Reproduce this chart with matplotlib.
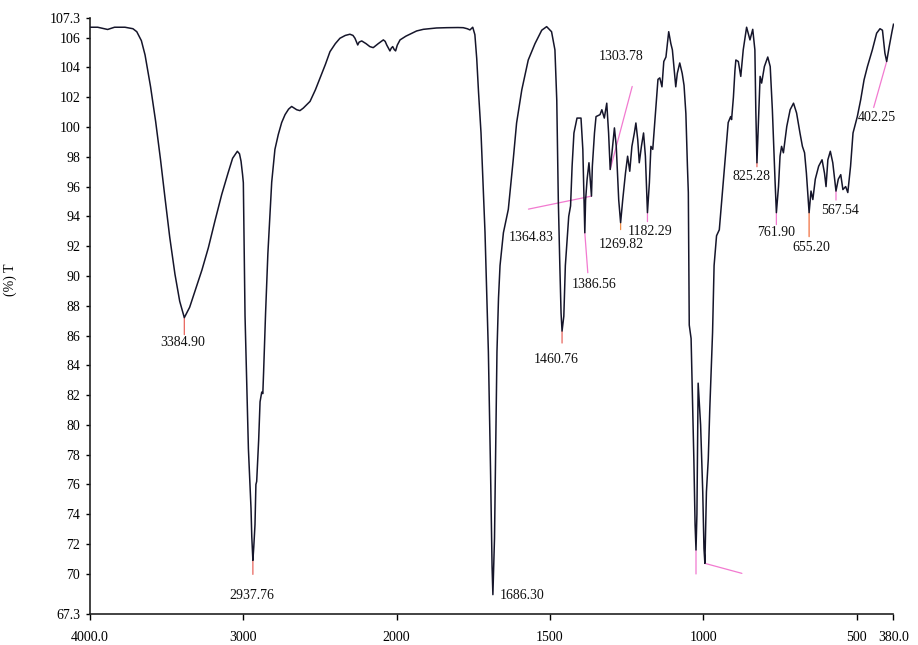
import numpy as np
import matplotlib
matplotlib.use("Agg")
import matplotlib.pyplot as plt

# ---------------- data ----------------
wavenumber = [
    4000, 3950, 3885, 3840, 3772, 3720, 3695, 3665, 3641, 3605, 3572, 3540, 3511, 3480, 3446, 3415,
    3384.9, 3350, 3315, 3270, 3228, 3185, 3141, 3100, 3070, 3039, 3025, 3015, 3005, 3000, 2989, 2967,
    2950, 2945, 2937.76, 2932, 2924, 2918, 2913, 2900, 2891, 2880, 2873, 2868, 2860, 2855, 2840, 2815,
    2794, 2772, 2750, 2728, 2705, 2685, 2665, 2652, 2631, 2609, 2565, 2530, 2500, 2465, 2435, 2400,
    2370, 2335, 2305, 2285, 2272, 2262, 2254, 2245, 2228, 2200, 2175, 2153, 2120, 2087, 2075, 2065,
    2044, 2035, 2026, 2016, 2007, 1998, 1989, 1970, 1957, 1935, 1913, 1870, 1837, 1800, 1783, 1770,
    1761, 1752, 1745, 1739, 1733, 1725, 1712, 1701, 1694, 1689, 1686.3, 1681, 1677, 1673, 1668, 1663,
    1652, 1636, 1620, 1609, 1592, 1571, 1549, 1527, 1511, 1495, 1484, 1478, 1473, 1468, 1464, 1460.76,
    1455, 1450, 1439, 1433, 1428, 1422, 1412, 1399, 1393, 1386.56, 1384, 1379, 1373, 1364.83, 1362,
    1355, 1350, 1337, 1331, 1323, 1315, 1309, 1303.78, 1298, 1290, 1284, 1276, 1269.82, 1263, 1254,
    1247, 1240, 1233, 1225, 1220, 1214, 1209, 1202, 1195, 1189, 1182.29, 1176, 1171, 1165, 1157, 1148,
    1142, 1135, 1129, 1122, 1113, 1106, 1101, 1096, 1090, 1085, 1077, 1069, 1063, 1057, 1052, 1049,
    1047, 1046, 1044, 1040, 1036, 1031, 1027, 1024, 1021, 1017, 1009, 1002, 998, 995, 990, 984, 979,
    970, 965, 957, 948, 940, 929, 919, 911, 908, 902, 897, 894, 886, 878, 870, 859, 848, 839, 832,
    829, 825.28, 815, 810, 801, 790, 782, 775, 766, 761.9, 755, 750, 745, 739, 728, 717, 706, 696,
    685, 677, 670, 664, 655.2, 649, 643, 635, 624, 613, 605, 600, 594, 586, 578, 567.54, 560, 552,
    545, 536, 529, 520, 512, 498, 487, 476, 465, 449, 435, 424, 416, 408, 402.25, 394, 385, 380,
]
transmittance = [
    106.7, 106.7, 106.55, 106.7, 106.7, 106.6, 106.4, 105.8, 104.84, 102.7, 100.38, 97.8, 95.25, 92.6, 90.12, 88.3,
    87.2, 87.9, 89.0, 90.4, 91.9, 93.7, 95.47, 96.9, 97.9, 98.37, 98.2, 97.7, 96.8, 96.26, 87.33, 78.4,
    74.4, 72.5, 70.9, 71.8, 73.3, 76.0, 76.2, 79.0, 81.55, 82.2, 82.1, 83.5, 86.0, 87.5, 91.5, 96.3,
    98.5, 99.5, 100.3, 100.83, 101.2, 101.38, 101.25, 101.16, 101.1, 101.27, 101.72, 102.5, 103.28, 104.2, 105.06, 105.6,
    105.96, 106.15, 106.23, 106.15, 105.96, 105.7, 105.51, 105.7, 105.78, 105.6, 105.4, 105.33, 105.6, 105.85, 105.75, 105.51,
    105.11, 105.3, 105.4, 105.2, 105.11, 105.5, 105.85, 106.1, 106.23, 106.45, 106.56, 106.65, 106.67, 106.68, 106.67, 106.6,
    106.52, 106.7, 106.2, 104.6, 102.3, 99.6, 92.93, 84.9, 77.0, 70.5, 68.6, 72.4, 78.5, 84.9, 88.5, 90.7,
    92.9, 94.47, 97.8, 100.27, 102.5, 104.5, 105.6, 106.5, 106.74, 106.4, 105.18, 101.8, 95.13, 90.68, 87.5, 86.3,
    87.3, 90.7, 94.0, 94.7, 97.37, 99.6, 100.6, 100.6, 98.49, 92.9, 95.1, 96.5, 97.6, 95.36, 97.37,
    99.6, 100.7, 100.83, 101.16, 100.6, 101.6, 99.6, 97.15, 98.27, 99.94, 98.7, 95.1, 93.58, 95.1, 96.9,
    98.04, 97.03, 98.7, 99.6, 100.27, 99.15, 97.6, 98.7, 99.6, 98.04, 94.25, 96.26, 98.7, 98.5, 100.7, 103.2,
    103.3, 102.7, 104.4, 104.7, 106.4, 105.6, 105.18, 104.06, 102.7, 103.6, 104.3, 103.6, 102.8, 100.9, 97.4, 95.6,
    90.0, 86.7, 86.4, 85.8, 82.2, 77.7, 73.3, 71.6, 74.0, 82.8, 80.0, 75.5, 71.7, 70.7, 75.5, 77.7, 81.1,
    86.2, 90.7, 92.7, 93.1, 95.1, 97.8, 100.3, 100.7, 100.5, 102.0, 103.8, 104.5, 104.4, 103.4, 105.18, 106.7, 105.85, 106.56, 105.18,
    101.16, 97.6, 103.4, 102.95, 104.06, 104.7, 104.06, 101.16, 96.26, 94.25, 96.0, 98.04, 98.7, 98.27, 100.04, 101.16, 101.6, 100.94,
    99.6, 98.7, 98.27, 96.9, 94.25, 95.7, 95.13, 96.5, 97.37, 97.8, 96.9, 96.0, 97.8, 98.37, 97.6, 95.7, 96.5, 96.8,
    95.8, 96.0, 95.6, 97.37, 99.6, 100.7, 101.83, 103.17, 104.06, 105.18, 106.3, 106.6, 106.5, 104.96, 104.4, 105.4, 106.4, 106.9,
]

peak_wavenumbers = [3384.90, 2937.76, 1686.30, 1460.76, 1386.56, 1364.83, 1303.78, 1269.82,
                    1182.29, 825.28, 761.90, 655.20, 567.54, 402.25, 1024, 995]
peak_labels = ["3384.90", "2937.76", "1686.30", "1460.76", "1386.56", "1364.83", "1303.78", "1269.82",
               "1182.29", "825.28", "761.90", "655.20", "567.54", "402.25", "", ""]

x_ticks = [4000, 3000, 2000, 1500, 1000, 500, 380]
x_tick_labels = ["4000.0", "3000", "2000", "1500", "1000", "500", "380.0"]
y_ticks = [67.3, 70, 72, 74, 76, 78, 80, 82, 84, 86, 88, 90, 92, 94, 96, 98, 100, 102, 104, 106, 107.3]
y_tick_labels = ["67.3"] + [str(v) for v in range(70, 107, 2)] + ["107.3"]

# ---------------- layout / style (pixel offsets for annotations) ----------------
RED = "#e8655d"
PINK = "#f27ad0"
# (line end dx, dy), (text dx, dy), colour   -- offsets in pixels from the curve point
annot_style = [
    ((0, -17), (-2, -25), RED),
    ((0, -14), (-1, -35), RED),
    (None, (29, -1), RED),
    ((0, -12), (-6, -28), RED),
    ((3, -40), (9, -52), PINK),
    ((-63, -13), (-60, -41), PINK),
    ((22, 83), (11, 113), PINK),
    ((0, -7), (1, -22), "#f0904a"),
    ((0, -9), (3, -19), PINK),
    ((0, -4), (-5, -14), RED),
    ((0, -12), (0, -20), PINK),
    ((0, -24), (2, -35), "#f07040"),
    ((0, -9), (4, -19), PINK),
    ((-13, -46), (-10, -56), PINK),
    ((0, -24), None, PINK),
    ((37, -10), None, PINK),
]

plt.rcParams["font.family"] = ["Liberation Serif", "DejaVu Serif"]
plt.rcParams["font.size"] = 10

W, H = 918, 645
fig = plt.figure(figsize=(W / 100, H / 100), dpi=100)
left, right, top, bottom = 90, 893.5, 18.3, 614
ax = fig.add_axes([left / W, 1 - bottom / H, (right - left) / W, (bottom - top) / H])


def fwd(w):
    w = np.asarray(w, dtype=float)
    return np.where(w > 2000, 2000 + (w - 2000) * 0.5, w)


def inv(u):
    u = np.asarray(u, dtype=float)
    return np.where(u > 2000, 2000 + (u - 2000) * 2.0, u)


ax.set_xscale("function", functions=(fwd, inv))
ax.plot(wavenumber, transmittance, color="#15152a", lw=1.1, zorder=3)
ax.set_xlim(4000, 380)
ax.set_ylim(67.3, 107.3)

wn_arr = np.array(wavenumber)[::-1]
t_arr = np.array(transmittance)[::-1]
for wn, lab, (lend, toff, col) in zip(peak_wavenumbers, peak_labels, annot_style):
    tv = float(np.interp(wn, wn_arr, t_arr))
    if lend is not None:
        ax.annotate("", xy=(wn, tv), xytext=lend, textcoords="offset pixels",
                    arrowprops=dict(arrowstyle="-", color=col, lw=0.9, shrinkA=0, shrinkB=0),
                    zorder=2)
    if toff is not None and lab:
        ax.annotate(lab, xy=(wn, tv), xytext=toff, textcoords="offset pixels",
                    ha="center", va="center", fontsize=10, color="#111111")

ax.set_xticks(x_ticks)
ax.set_xticklabels(x_tick_labels)
ax.minorticks_off()
ax.set_yticks(y_ticks)
ax.set_yticklabels(y_tick_labels)

for s in ["top", "right"]:
    ax.spines[s].set_visible(False)
for s in ["left", "bottom"]:
    ax.spines[s].set_linewidth(1.2)
    ax.spines[s].set_color("#222222")

ax.tick_params(axis="y", direction="out", length=3, width=1, pad=4, labelsize=10)
ax.tick_params(axis="x", direction="out", length=4, width=1, pad=8, labelsize=10)

ax.set_ylabel("(%) T", fontsize=10)
ax.yaxis.set_label_coords((17 - left) / (right - left), 1 - (280 - top) / (bottom - top))

fig.savefig("out.png", dpi=100)
